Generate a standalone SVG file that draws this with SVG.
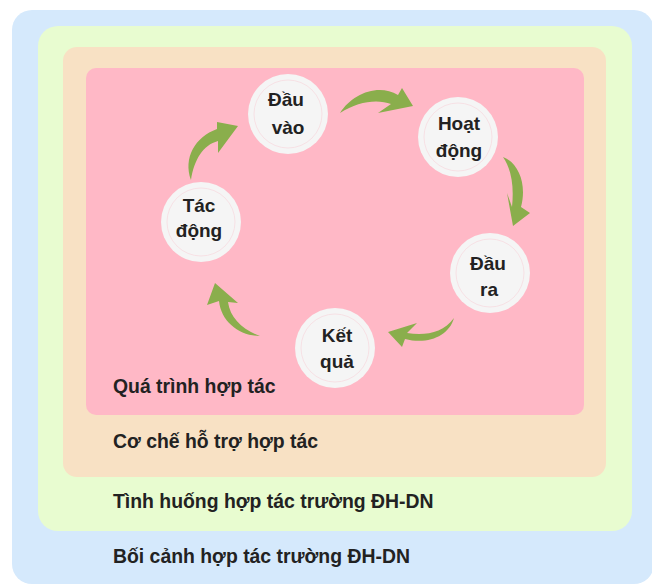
<svg xmlns="http://www.w3.org/2000/svg" width="652" height="586" viewBox="0 0 652 586">
<style>
.lbl{font-family:"Liberation Sans",Arial,sans-serif;font-weight:bold;font-size:19.4px;fill:#222;}
.nt{font-family:"Liberation Sans",Arial,sans-serif;font-weight:bold;font-size:19px;fill:#222;text-anchor:middle;}
.c{fill:#f5f5f5;}
.ring{fill:none;stroke:#f7e1e5;stroke-width:1;}
.arr{fill:#8aae4c;}
</style>
<rect width="652" height="586" fill="#ffffff"/>
<g id="boi-canh"><rect x="12" y="10" width="642" height="574" rx="20" fill="#d5e9fc"/><text class="lbl" x="113" y="563">Bối cảnh hợp tác trường ĐH-DN</text></g>
<g id="tinh-huong"><rect x="38" y="26" width="594" height="505" rx="20" fill="#e8fcd0"/><text class="lbl" x="113" y="508">Tình huống hợp tác trường ĐH-DN</text></g>
<g id="co-che"><rect x="63" y="47" width="543" height="430" rx="14" fill="#f8e1c4"/><text class="lbl" x="113" y="448">Cơ chế hỗ trợ hợp tác</text></g>
<g id="qua-trinh"><rect x="86" y="68" width="498" height="347" rx="10" fill="#ffb8c6"/><text class="lbl" x="113" y="393">Quá trình hợp tác</text></g>
<g id="connectors">
<path class="arr" d="M340,113 C352,94 378,83 398,95 L402,88 L413,106 L378,113 L391,104 C378,99 358,101 340,113 Z"/>
<path class="arr" d="M503,157 C519,163 527,185 521,207 L530,213 L513,226 L507,193 L512,207 C514,188 512,170 503,157 Z"/>
<path class="arr" d="M454,318 C449,336 428,345 405,339 L402,347 L388,332 L417,323 L407,333 C425,336 443,333 454,318 Z"/>
<path class="arr" d="M260,336 C240,336 221,322 219,301 L207,305 L215,283 L238,303 L228,302 C230,318 243,330 260,336 Z"/>
<path class="arr" d="M191,180 C183,158 195,137 217,129 L217,122 L238,126 L218,153 L218,141 C203,145 194,160 191,180 Z"/>
</g>
<g id="dau-vao"><circle class="c" cx="288" cy="114" r="40"/><circle class="ring" cx="288" cy="114" r="34"/><text class="nt" x="286" y="106">Đầu</text><text class="nt" x="288" y="134">vào</text></g>
<g id="hoat-dong"><circle class="c" cx="458" cy="137" r="40"/><circle class="ring" cx="458" cy="137" r="34"/><text class="nt" x="459" y="130">Hoạt</text><text class="nt" x="459" y="157">động</text></g>
<g id="dau-ra"><circle class="c" cx="490" cy="273" r="40"/><circle class="ring" cx="490" cy="273" r="34"/><text class="nt" x="488" y="270">Đầu</text><text class="nt" x="489" y="296">ra</text></g>
<g id="ket-qua"><circle class="c" cx="335" cy="348" r="40"/><circle class="ring" cx="335" cy="348" r="34"/><text class="nt" x="337" y="342">Kết</text><text class="nt" x="337" y="368">quả</text></g>
<g id="tac-dong"><circle class="c" cx="201" cy="222" r="40"/><circle class="ring" cx="201" cy="222" r="34"/><text class="nt" x="199" y="212">Tác</text><text class="nt" x="199" y="237">động</text></g>
</svg>
